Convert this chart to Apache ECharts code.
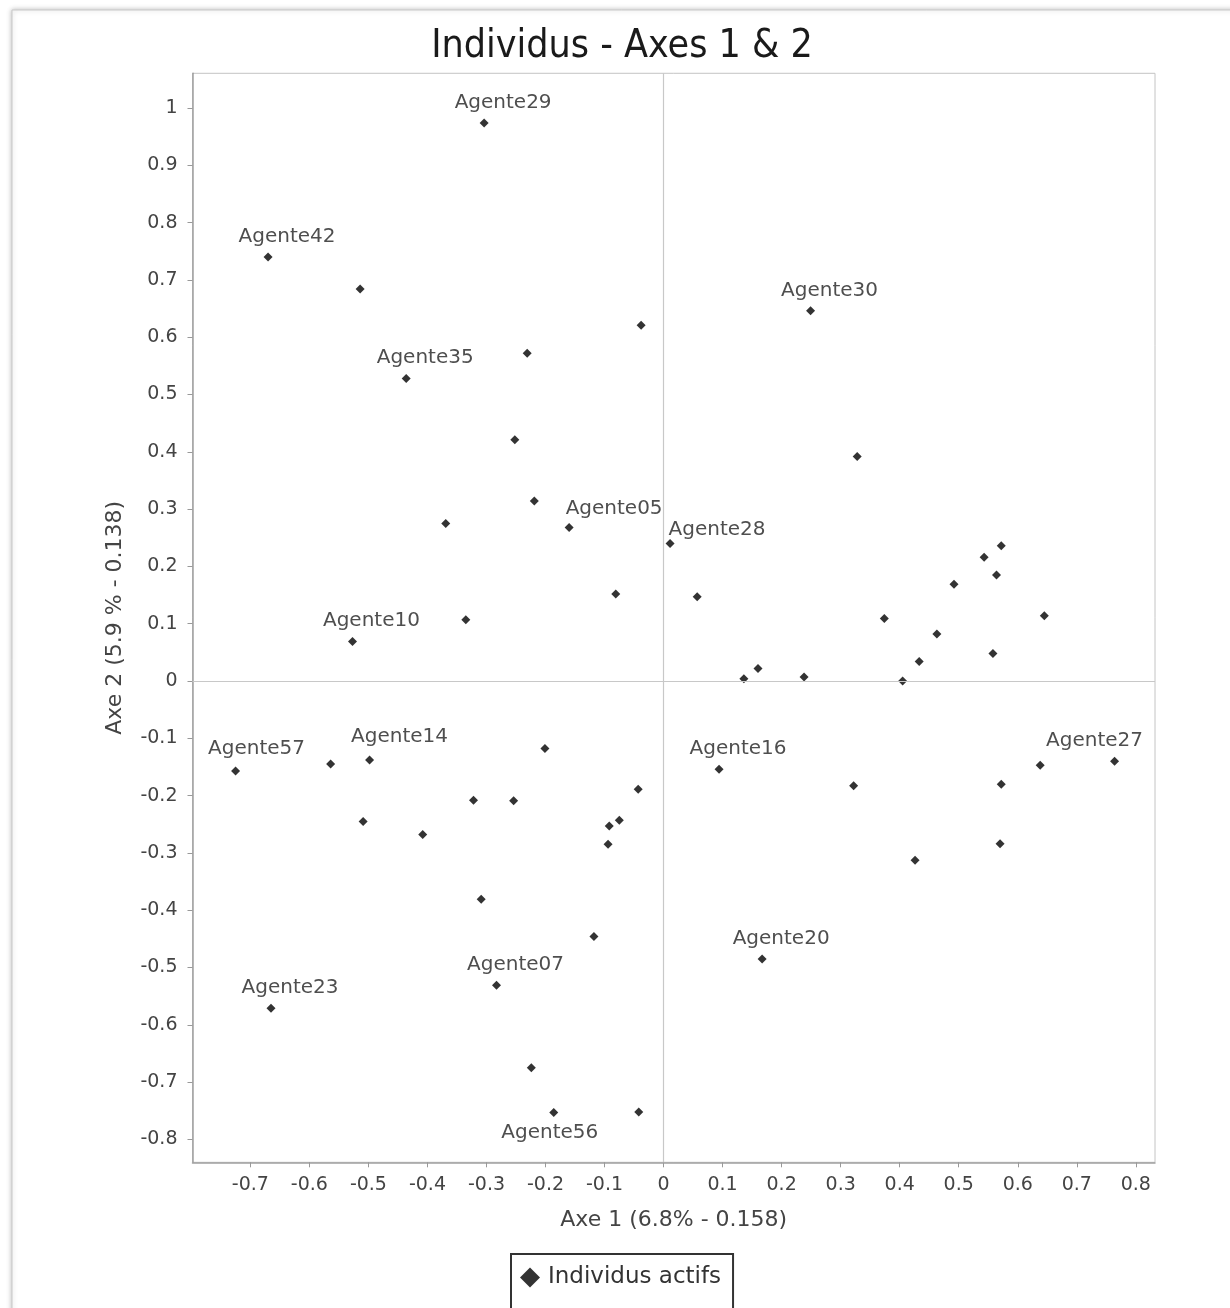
<!DOCTYPE html>
<html>
<head>
<meta charset="utf-8">
<script src="https://cdn.jsdelivr.net/npm/echarts@6/dist/echarts.min.js"></script>
<style>html,body{margin:0;padding:0;background:#fff;}#chart{width:1230px;height:1308px;}</style>
</head>
<body>
<div id="chart"></div>
<script>
// ---- data ----
const pointLabels = ['Agente29','Agente42','','','','Agente35','','','','Agente05','','','Agente10',
  'Agente30','','Agente28','','','','','','','','','','','','','','',
  'Agente57','','Agente14','','','','','','','','','','','','Agente07','Agente23','','Agente56','',
  'Agente16','','','','Agente27','','','Agente20'];
const axe1 = [-0.304,-0.670,-0.514,-0.038,-0.231,-0.436,-0.252,-0.219,-0.369,-0.160,-0.081,-0.335,-0.527,
  0.249,0.328,0.011,0.057,0.572,0.543,0.564,0.492,0.645,0.374,0.463,0.558,0.433,0.160,0.136,0.238,0.405,
  -0.725,-0.564,-0.498,-0.201,-0.322,-0.254,-0.043,-0.509,-0.408,-0.075,-0.092,-0.094,-0.309,-0.118,-0.283,-0.665,-0.224,-0.186,-0.042,
  0.094,0.322,0.572,0.638,0.764,0.570,0.426,0.167];
const axe2 = [0.974,0.740,0.684,0.621,0.572,0.528,0.421,0.314,0.275,0.268,0.152,0.107,0.069,
  0.646,0.392,0.240,0.147,0.236,0.216,0.185,0.169,0.114,0.109,0.082,0.048,0.034,0.022,0.004,0.007,0.000,
  -0.157,-0.145,-0.138,-0.118,-0.208,-0.209,-0.189,-0.245,-0.268,-0.243,-0.253,-0.285,-0.381,-0.446,-0.531,-0.571,-0.675,-0.753,-0.752,
  -0.154,-0.183,-0.180,-0.147,-0.140,-0.284,-0.313,-0.485];
const xTicks = [-0.7,-0.6,-0.5,-0.4,-0.3,-0.2,-0.1,0,0.1,0.2,0.3,0.4,0.5,0.6,0.7,0.8];
const yTicks = [-0.8,-0.7,-0.6,-0.5,-0.4,-0.3,-0.2,-0.1,0,0.1,0.2,0.3,0.4,0.5,0.6,0.7,0.8,0.9,1];
const seriesName = 'Individus actifs';

// ---- label layout (style, not data) ----
const labelShift = {
  default: {position: 'top', d: [19, 0]},
  Agente28: {position: 'top', d: [47, 7]},
  Agente05: {position: 'top', d: [45, 2]},
  Agente14: {position: 'top', d: [30, -3]},
  Agente57: {position: 'top', d: [21, -2]},
  Agente27: {position: 'top', d: [-20, 0]},
  Agente56: {position: 'bottom', d: [-4, 0]}
};
const shiftOf = nm => labelShift[nm] || labelShift.default;

const points = axe1.map((x, i) => {
  const nm = pointLabels[i];
  return {
    name: nm,
    value: [x, axe2[i]],
    label: nm ? {show: true, position: shiftOf(nm).position} : {show: false}
  };
});

const FONT = '"DejaVu Sans", "Liberation Sans", sans-serif';
const chart = echarts.init(document.getElementById('chart'), null, {renderer: 'canvas'});
chart.setOption({
  animation: false,
  backgroundColor: '#fff',
  graphic: [{
    type: 'rect', z: -10, silent: true,
    shape: {x: 12, y: 10, width: 1260, height: 1340},
    style: {fill: '#fff', stroke: '#c8c8c8', lineWidth: 1, shadowBlur: 5, shadowColor: 'rgba(0,0,0,0.25)'}
  }],
  title: {
    text: 'Individus - Axes 1 & 2',
    left: 617, top: 22, textAlign: 'center',
    textStyle: {fontFamily: '"DejaVu Sans Condensed", "DejaVu Sans", sans-serif', fontSize: 39, fontWeight: 'normal', color: '#1a1a1a'}
  },
  legend: {
    data: [{name: seriesName, icon: 'diamond'}],
    left: 511, top: 1254,
    itemWidth: 20, itemHeight: 20, itemGap: 6,
    padding: [12, 12, 40, 9],
    borderColor: '#333', borderWidth: 2,
    itemStyle: {color: '#000'},
    textStyle: {fontFamily: FONT, fontSize: 23, color: '#333', padding: [0, 0, 0, 3]}
  },
  grid: {left: 192.5, top: 73.3, right: 75, bottom: 145.7, show: true, borderColor: '#c4c4c4', borderWidth: 1, containLabel: false},
  xAxis: {
    type: 'value', min: -0.798, max: 0.8325,
    name: 'Axe 1 (6.8% - 0.158)', nameLocation: 'middle', nameGap: 47,
    nameTextStyle: {fontFamily: FONT, fontSize: 22, color: '#444'},
    axisLine: {show: true, onZero: false, lineStyle: {color: '#a0a0a0', width: 1.5}},
    axisTick: {show: true, length: 5, customValues: xTicks, lineStyle: {color: '#999'}},
    axisLabel: {customValues: xTicks, margin: 13, fontFamily: FONT, fontSize: 19, color: '#444', formatter: v => String(+v.toFixed(1))},
    splitLine: {show: false}
  },
  yAxis: {
    type: 'value', min: -0.84, max: 1.0606,
    name: 'Axe 2 (5.9 % - 0.138)', nameLocation: 'middle', nameGap: 66, nameRotate: 90,
    nameTextStyle: {fontFamily: FONT, fontSize: 22, color: '#444'},
    axisLine: {show: true, onZero: false, lineStyle: {color: '#a0a0a0', width: 1.5}},
    axisTick: {show: true, length: 5, customValues: yTicks, lineStyle: {color: '#999'}},
    axisLabel: {customValues: yTicks, margin: 15, fontFamily: FONT, fontSize: 19, color: '#444', formatter: v => String(+v.toFixed(1))},
    splitLine: {show: false}
  },
  series: [{
    name: seriesName,
    type: 'scatter',
    symbol: 'diamond',
    symbolSize: 9,
    itemStyle: {color: '#000'},
    label: {formatter: '{b}', distance: 6, fontFamily: FONT, fontSize: 20, color: '#222'},
    labelLayout: function (params) {
      const nm = pointLabels[params.dataIndex];
      const s = shiftOf(nm).d;
      return {dx: s[0], dy: s[1], hideOverlap: false};
    },
    data: points,
    markLine: {
      silent: true, symbol: 'none', animation: false,
      label: {show: false},
      lineStyle: {color: '#c8c8c8', type: 'solid', width: 1.2},
      data: [{xAxis: 0}, {yAxis: 0}]
    },
    z: 3
  }]
});
</script>
</body>
</html>
